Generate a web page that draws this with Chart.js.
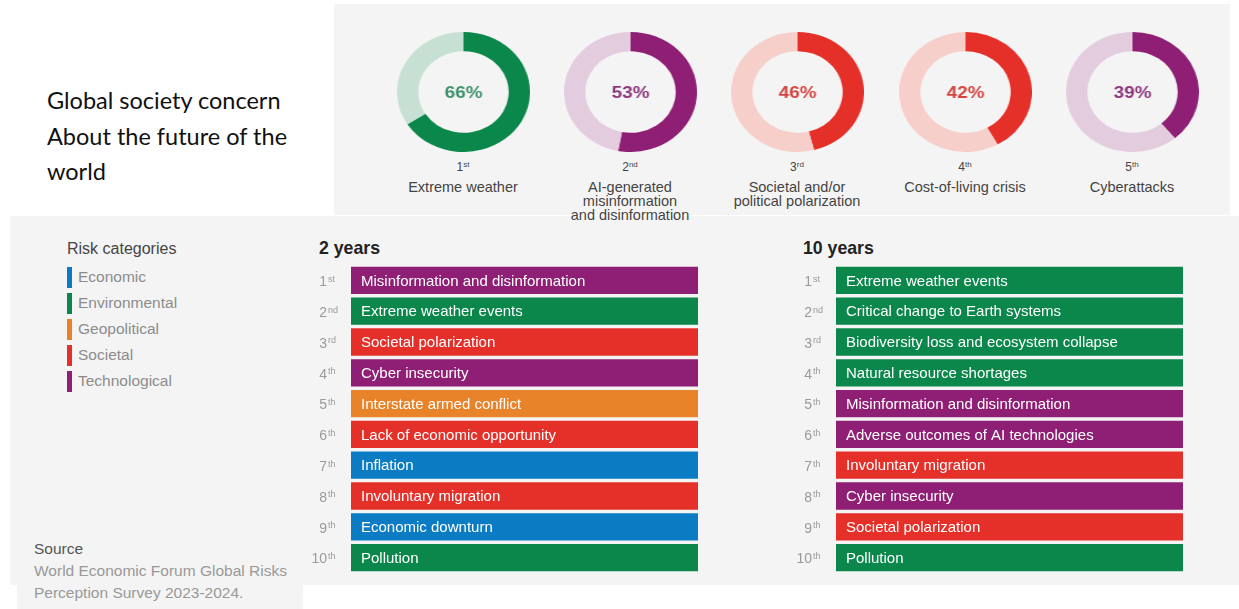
<!DOCTYPE html>
<html>
<head>
<meta charset="utf-8">
<script src="https://cdn.jsdelivr.net/npm/chart.js@4.4.1/dist/chart.umd.min.js"></script>
<style>
  body { margin: 0; width: 1239px; height: 609px; background: #fff; position: relative; overflow: hidden;
         font-family: "Liberation Sans", Arial, sans-serif; }
  .panel { position: absolute; background: #f4f4f4; }
  .abs { position: absolute; }
  #headline { left: 47px; top: 83px; font-family: Lato, "Open Sans", sans-serif; font-size: 23.5px;
              line-height: 35.5px; color: #111; }
  .donut { position: absolute; top: 32px; }
  .dlabel { position: absolute; top: 159px; width: 200px; text-align: center; color: #444; z-index: 2; }
  .dlabel .rk { font-size: 12px; line-height: 16px; }
  .dlabel .rk sup { font-size: 8px; vertical-align: 4px; line-height: 0; }
  .dlabel .nm { font-size: 14.5px; line-height: 14px; margin-top: 5px; }
  .legtitle { left: 67px; top: 239px; font-size: 16px; color: #444; line-height: 20px; }
  .legitem { position: absolute; left: 67px; height: 21px; }
  .legitem i { position: absolute; left: 0; top: 0; width: 5px; height: 21px; }
  .legitem span { position: absolute; left: 11px; top: -1px; font-size: 15.5px; line-height: 21px; color: #8c8c8c; white-space: nowrap; }
  .head { font-size: 17.7px; font-weight: bold; color: #222; top: 238px; line-height: 20px; }
  #src { left: 34px; top: 538px; font-size: 15.5px; line-height: 22px; color: #999; }
  #src b { font-weight: normal; color: #555; }
</style>
</head>
<body>
<div class="panel" style="left:334px; top:4px; width:896px; height:211px;"></div>
<div class="panel" style="left:10px; top:216px; width:1229px; height:369px;"></div>
<div class="panel" style="left:17px; top:585px; width:286px; height:24px;"></div>

<div id="headline" class="abs">Global society concern<br>About the future of the<br>world</div>

<div id="donuts"></div>

<div class="abs legtitle">Risk categories</div>
<div id="legend"></div>

<div class="abs head" style="left:319px;">2 years</div>
<div class="abs head" style="left:803px;">10 years</div>

<canvas id="chart2y" width="402" height="316" class="abs" style="left:300px; top:260px;"></canvas>
<canvas id="chart10y" width="402" height="316" class="abs" style="left:785px; top:260px;"></canvas>

<div id="src" class="abs"><b>Source</b><br>World Economic Forum Global Risks<br>Perception Survey 2023-2024.</div>

<script>
// top 5 concerns (doughnuts)
const topRisks = [
    ['Extreme weather'],
    ['AI-generated', 'misinformation', 'and disinformation'],
    ['Societal and/or', 'political polarization'],
    ['Cost-of-living crisis'],
    ['Cyberattacks']
];
const topShares = [66, 53, 46, 42, 39];
const topCats = ['Environmental', 'Technological', 'Societal', 'Societal', 'Technological'];

// ranking lists
const rankNums = ['1', '2', '3', '4', '5', '6', '7', '8', '9', '10'];
const rankSuffix = ['st', 'nd', 'rd', 'th', 'th', 'th', 'th', 'th', 'th', 'th'];

const twoYearRisks = [
    'Misinformation and disinformation', 'Extreme weather events', 'Societal polarization',
    'Cyber insecurity', 'Interstate armed conflict', 'Lack of economic opportunity',
    'Inflation', 'Involuntary migration', 'Economic downturn', 'Pollution'
];
const twoYearCats = [
    'Technological', 'Environmental', 'Societal', 'Technological', 'Geopolitical',
    'Societal', 'Economic', 'Societal', 'Economic', 'Environmental'
];
const tenYearRisks = [
    'Extreme weather events', 'Critical change to Earth systems', 'Biodiversity loss and ecosystem collapse',
    'Natural resource shortages', 'Misinformation and disinformation', 'Adverse outcomes of AI technologies',
    'Involuntary migration', 'Cyber insecurity', 'Societal polarization', 'Pollution'
];
const tenYearCats = [
    'Environmental', 'Environmental', 'Environmental', 'Environmental', 'Technological',
    'Technological', 'Societal', 'Technological', 'Societal', 'Environmental'
];
// every ranked risk fills the full bar
const barValues = [1, 1, 1, 1, 1, 1, 1, 1, 1, 1];

const categories = ['Economic', 'Environmental', 'Geopolitical', 'Societal', 'Technological'];

const catColors = {
    Economic: '#0b7cc4',
    Environmental: '#0b874b',
    Geopolitical: '#e8832a',
    Societal: '#e5302a',
    Technological: '#8f1f74'
};
const catLight = { Environmental: '#c6e1d4', Societal: '#f6cfcb', Technological: '#e4ccdf' };
const catText = { Environmental: '#3a9068', Societal: '#d4443f', Technological: '#8d357c' };

const FONT = '"Liberation Sans", Arial, sans-serif';

// legend
const legend = document.getElementById('legend');
categories.forEach((c, i) => {
    const d = document.createElement('div');
    d.className = 'legitem';
    d.style.top = (267 + i * 26) + 'px';
    d.innerHTML = '<i style="background:' + catColors[c] + '"></i><span>' + c + '</span>';
    legend.appendChild(d);
});

// doughnuts
const centerText = {
    id: 'centerText',
    afterDraw(chart) {
        const { ctx, chartArea } = chart;
        const cat = chart.options.plugins.centerText.cat;
        ctx.save();
        ctx.font = 'bold 17px ' + FONT;
        ctx.fillStyle = catText[cat];
        ctx.textAlign = 'center';
        ctx.textBaseline = 'middle';
        ctx.fillText(chart.data.datasets[0].data[0] + '%',
            (chartArea.left + chartArea.right) / 2, (chartArea.top + chartArea.bottom) / 2 + 1);
        ctx.restore();
    }
};

const donutX = [463, 630, 797, 965, 1132];
const donutBox = document.getElementById('donuts');
topShares.forEach((v, i) => {
    const cv = document.createElement('canvas');
    cv.width = 120;
    cv.height = 120;
    cv.className = 'donut';
    // the source picture is slightly stretched sideways
    cv.style.width = '133px';
    cv.style.height = '120px';
    cv.style.left = (donutX[i] - 66.5) + 'px';
    donutBox.appendChild(cv);

    const lab = document.createElement('div');
    lab.className = 'dlabel';
    lab.style.left = (donutX[i] - 100) + 'px';
    lab.innerHTML = '<div class="rk">' + rankNums[i] + '<sup>' + rankSuffix[i] + '</sup></div>' +
        '<div class="nm">' + topRisks[i].join('<br>') + '</div>';
    donutBox.appendChild(lab);

    const cat = topCats[i];
    new Chart(cv, {
        type: 'doughnut',
        data: {
            labels: [topRisks[i].join(' '), 'Other'],
            datasets: [{
                data: [v, 100 - v],
                backgroundColor: [catColors[cat], catLight[cat]],
                borderWidth: 0
            }]
        },
        options: {
            responsive: false,
            animation: false,
            cutout: '68%',
            layout: { padding: 0 },
            plugins: {
                legend: { display: false },
                tooltip: { enabled: false },
                centerText: { cat: cat }
            }
        },
        plugins: [centerText]
    });
});

// ranked bar lists
const barText = {
    id: 'barText',
    afterDatasetsDraw(chart) {
        const ctx = chart.ctx;
        const meta = chart.getDatasetMeta(0);
        const rx = chart.chartArea.left - 24;
        meta.data.forEach((bar, i) => {
            ctx.save();
            ctx.textBaseline = 'middle';
            ctx.fillStyle = '#fff';
            ctx.font = '15px ' + FONT;
            ctx.textAlign = 'left';
            ctx.fillText(chart.data.labels[i], bar.base + 10, bar.y + 1);

            ctx.fillStyle = '#9a9a9a';
            ctx.font = '14px ' + FONT;
            ctx.textAlign = 'right';
            ctx.fillText(rankNums[i], rx, bar.y + 2);
            ctx.font = '9px ' + FONT;
            ctx.textAlign = 'left';
            ctx.fillText(rankSuffix[i], rx + 1, bar.y - 1);
            ctx.restore();
        });
    }
};

function rankChart(id, names, cats) {
    new Chart(document.getElementById(id), {
        type: 'bar',
        data: {
            labels: names,
            datasets: [{
                data: barValues,
                backgroundColor: cats.map(c => catColors[c]),
                borderWidth: 0,
                barPercentage: 0.885,
                categoryPercentage: 1
            }]
        },
        options: {
            indexAxis: 'y',
            responsive: false,
            animation: false,
            layout: { padding: { left: 51, right: 4, top: 5, bottom: 3 } },
            scales: {
                x: { display: false, min: 0, max: 1 },
                y: { display: false }
            },
            plugins: {
                legend: { display: false },
                tooltip: { enabled: false }
            }
        },
        plugins: [barText]
    });
}

rankChart('chart2y', twoYearRisks, twoYearCats);
rankChart('chart10y', tenYearRisks, tenYearCats);
</script>
</body>
</html>
